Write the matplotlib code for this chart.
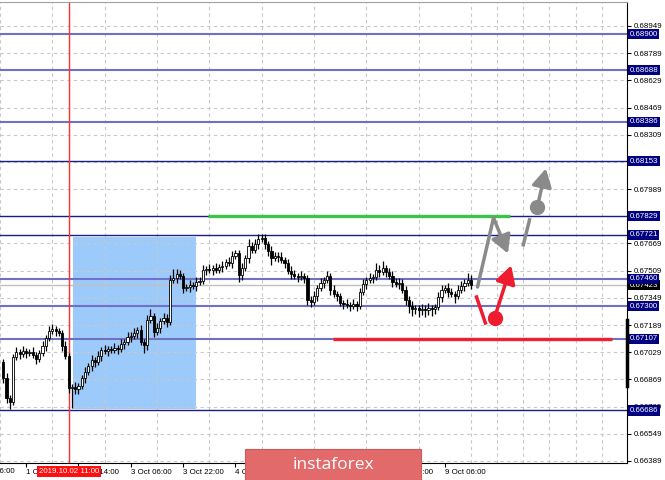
import matplotlib.pyplot as plt
from matplotlib.patches import Rectangle

# H1 candles, 1 Oct 15:00 ... 9 Oct 15:00
first_open = 0.66971
closes = [
    0.66877, 0.66759, 0.66736, 0.67001, 0.67030, 0.67019, 0.67036, 0.67024, 0.67030, 0.67013,
    0.66989, 0.67024, 0.67066, 0.67113, 0.67154, 0.67166, 0.67154, 0.67142, 0.67066, 0.67007,
    0.66818, 0.66824, 0.66812, 0.66830, 0.66877, 0.66913, 0.66948, 0.66983, 0.66971, 0.67007,
    0.67042, 0.67036, 0.67048, 0.67042, 0.67054, 0.67048, 0.67077, 0.67089, 0.67119, 0.67125,
    0.67142, 0.67160, 0.67089, 0.67072, 0.67219, 0.67242, 0.67148, 0.67172, 0.67213, 0.67231,
    0.67207, 0.67454, 0.67466, 0.67490, 0.67478, 0.67407, 0.67413, 0.67425, 0.67419, 0.67443,
    0.67449, 0.67513, 0.67519, 0.67513, 0.67525, 0.67513, 0.67531, 0.67537, 0.67560, 0.67555,
    0.67596, 0.67613, 0.67484, 0.67525, 0.67584, 0.67655, 0.67631, 0.67666, 0.67696, 0.67702,
    0.67666, 0.67625, 0.67584, 0.67596, 0.67590, 0.67572, 0.67555, 0.67507, 0.67490, 0.67478,
    0.67472, 0.67478, 0.67466, 0.67337, 0.67325, 0.67360, 0.67407, 0.67437, 0.67454, 0.67478,
    0.67396, 0.67372, 0.67360, 0.67319, 0.67313, 0.67307, 0.67301, 0.67313, 0.67301, 0.67384,
    0.67431, 0.67454, 0.67466, 0.67472, 0.67513, 0.67502, 0.67525, 0.67502, 0.67478, 0.67443,
    0.67431, 0.67437, 0.67396, 0.67337, 0.67301, 0.67284, 0.67289, 0.67278, 0.67284, 0.67278,
    0.67289, 0.67284, 0.67295, 0.67354, 0.67396, 0.67407, 0.67384, 0.67372, 0.67360, 0.67396,
    0.67419, 0.67437, 0.67454, 0.67423,
]
# wicks in pips (0.0001)
wick_up = [
    2, 3, 2, 2, 3, 2, 3, 2, 2, 3, 2, 2, 3, 2, 3, 3, 2, 2, 2, 3,
    2, 2, 3, 2, 2, 3, 2, 3, 2, 3, 2, 3, 2, 2, 3, 2, 3, 2, 3, 2,
    3, 2, 3, 2, 3, 4, 2, 3, 2, 3, 2, 3, 5, 3, 2, 2, 2, 3, 2, 3,
    2, 3, 2, 3, 2, 3, 2, 3, 2, 3, 3, 2, 2, 3, 2, 4, 2, 3, 3, 2,
    2, 2, 3, 2, 2, 3, 2, 2, 3, 2, 2, 3, 2, 2, 2, 3, 2, 3, 2, 3,
    2, 3, 2, 2, 2, 3, 2, 3, 2, 2, 3, 2, 3, 2, 4, 3, 4, 2, 2, 3,
    2, 3, 2, 2, 2, 3, 2, 2, 3, 2, 3, 2, 2, 3, 3, 2, 3, 2, 2, 3,
    3, 2, 4, 3,
]
wick_dn = [
    3, 3, 4, 2, 2, 3, 2, 3, 2, 2, 3, 2, 2, 3, 2, 2, 3, 2, 3, 2,
    3, 12, 3, 3, 2, 3, 2, 3, 3, 2, 3, 2, 3, 2, 2, 3, 2, 3, 2, 3,
    2, 3, 2, 5, 3, 2, 3, 2, 3, 2, 3, 2, 2, 3, 2, 3, 2, 3, 2, 3,
    2, 2, 3, 2, 3, 2, 2, 3, 2, 2, 3, 2, 4, 3, 2, 3, 2, 2, 3, 2,
    3, 3, 4, 2, 3, 2, 3, 2, 3, 2, 3, 2, 3, 3, 3, 2, 3, 2, 3, 2,
    3, 2, 3, 2, 3, 2, 3, 2, 3, 2, 2, 3, 2, 3, 2, 3, 2, 3, 2, 3,
    2, 3, 2, 3, 4, 4, 3, 4, 3, 4, 3, 4, 3, 2, 3, 2, 3, 2, 4, 2,
    2, 3, 2, 2,
]

levels_light = [0.68900, 0.68688, 0.68386, 0.67460, 0.67300, 0.67107]
levels_dark = [0.68153, 0.67829, 0.67721, 0.66686]
bid = 0.67423

price_ticks = [0.66389, 0.66549, 0.66709, 0.66869, 0.67029, 0.67189, 0.67349, 0.67509, 0.67669,
               0.67829, 0.67989, 0.68149, 0.68309, 0.68469, 0.68629, 0.68789, 0.68949]
hidden_ticks = [0.67829, 0.68149]   # covered by level boxes
date_ticks = [7, 23, 39, 55, 71, 87, 103, 119, 135]
date_labels = ['1 Oct 22:00', '2 Oct 14:00', '3 Oct 06:00', '3 Oct 22:00', '4 Oct 14:00',
               '7 Oct 06:00', '7 Oct 22:00', '8 Oct 14:00', '9 Oct 06:00']

# marked objects
event_x = 20
event_label = '2019.10.02 11:00'
zone_x = (21.2, 59.0)
zone_price = (0.66695, 0.67707)
green_x = (62.7, 155.0)
green_price = 0.67829
red_x = (100.8, 186.2)
red_price = 0.67107
gray_path = [(145.0, 0.67413), (149.9, 0.67820), (154.3, 0.67610)]
gray_seg = [(159.0, 0.67661), (160.9, 0.67808)]
gray_dot = (163.3, 0.67884)
gray_tip = (165.9, 0.68110)
red_seg = [(144.7, 0.67354), (147.4, 0.67201)]
red_dot = (150.2, 0.67231)
red_tip = (155.3, 0.67540)
bar_range = (0.66830, 0.67219)

plt.rcParams['font.family'] = ['Liberation Sans', 'DejaVu Sans']

fig = plt.figure(figsize=(6.65, 4.8), dpi=100)
ax = fig.add_axes([0, 17 / 480, 627 / 665, 461 / 480])
ax.set_xlim(-0.43, 190.7)
ax.set_ylim(0.66377, 0.69090)

# grid
ax.set_yticks(price_ticks)
ax.set_yticklabels(['' if p in hidden_ticks else f'{p:.5f}' for p in price_ticks])
ax.set_xticks(date_ticks)
ax.set_xticklabels(date_labels, ha='left')
ax.set_xticks(list(range(-1, 191, 8)), minor=True)
ax.grid(True, which='minor', axis='x', color='#c8c8c8', linestyle=(0, (3, 3)), lw=0.8)
ax.grid(True, which='major', axis='y', color='#c8c8c8', linestyle=(0, (3, 3)), lw=0.8)
ax.set_axisbelow(True)

ax.yaxis.tick_right()
ax.tick_params(axis='y', length=3, width=0.8, labelsize=5.7, pad=1.5)
ax.tick_params(axis='x', which='major', length=3, width=0.8, labelsize=5.7, pad=1.5)
ax.tick_params(axis='x', which='minor', length=0)
ax.spines['left'].set_visible(False)
ax.spines['top'].set_color('#a0a0a0')

# zone
ax.add_patch(Rectangle((zone_x[0], zone_price[0]), zone_x[1] - zone_x[0],
                       zone_price[1] - zone_price[0], fc='#9ccbfb', ec='none', zorder=0.5))

# levels
for p in levels_light:
    ax.axhline(p, color='#7070c4', lw=1.5, zorder=2)
for p in levels_dark:
    ax.axhline(p, color='#1c1c84', lw=1.0, zorder=2)
ax.axhline(bid, color='#c0c0c0', lw=1.0, zorder=1.8)
ax.axvline(event_x, color='#ff3030', lw=1.0, zorder=2)

ax.plot(green_x, [green_price] * 2, color='#3cc44a', lw=2.4, zorder=2.5, solid_capstyle='butt')
ax.plot(red_x, [red_price] * 2, color='#f02030', lw=2.4, zorder=2.5, solid_capstyle='butt')

# candles
opens = [first_open] + closes[:-1]
xs = list(range(len(closes)))
highs = [max(o, c) + u * 0.0001 for o, c, u in zip(opens, closes, wick_up)]
lows = [min(o, c) - d * 0.0001 for o, c, d in zip(opens, closes, wick_dn)]
ax.vlines(xs, lows, highs, color='black', lw=0.9, zorder=3)
bottoms = [min(o, c) for o, c in zip(opens, closes)]
heights = [max(abs(c - o), 0.00002) for o, c in zip(opens, closes)]
faces = ['white' if c >= o else 'black' for o, c in zip(opens, closes)]
ax.bar(xs, heights, bottom=bottoms, width=0.66, color=faces, edgecolor='black',
       lw=0.6, zorder=4)

# scenario arrows
gray = '#8a8a8a'
red = '#ee1c2e'
ax.plot([gray_path[0][0], gray_path[1][0]], [gray_path[0][1], gray_path[1][1]],
        color=gray, lw=2.5, zorder=5, solid_capstyle='round')
arrow_kw = dict(arrowstyle='-|>,head_length=0.9,head_width=0.5', lw=2.5,
                mutation_scale=12, shrinkA=0, shrinkB=0)
ax.annotate('', xy=gray_path[2], xytext=gray_path[1],
            arrowprops=dict(color=gray, **arrow_kw), zorder=5)
ax.plot([p[0] for p in gray_seg], [p[1] for p in gray_seg], color=gray, lw=2.5, zorder=5)
ax.plot(*gray_dot, 'o', color=gray, ms=10, zorder=5)
ax.annotate('', xy=gray_tip, xytext=gray_dot,
            arrowprops=dict(color=gray, **arrow_kw), zorder=5)
ax.plot([p[0] for p in red_seg], [p[1] for p in red_seg], color=red, lw=2.5, zorder=5)
ax.plot(*red_dot, 'o', color=red, ms=10, zorder=5)
ax.annotate('', xy=red_tip, xytext=red_dot,
            arrowprops=dict(color=red, **arrow_kw), zorder=5)

# right-side labels for levels
ytr = ax.get_yaxis_transform()
ax.text(1.004, bid, f'{bid:.5f}', transform=ytr, ha='left', va='center', fontsize=5.7,
        color='white', zorder=10, clip_on=False,
        bbox=dict(boxstyle='square,pad=0.2', fc='black', ec='none'))
for p in levels_dark + levels_light:
    ax.text(1.004, p, f'{p:.5f}', transform=ytr, ha='left', va='center', fontsize=5.7,
            color='white', zorder=11, clip_on=False,
            bbox=dict(boxstyle='square,pad=0.2', fc='#000080', ec='none'))
ax.plot([1.0, 1.0], bar_range, transform=ytr, color='black', lw=2.5, clip_on=False, zorder=12)

# bottom: date label of the red line, and the half-visible first label
xtr = ax.get_xaxis_transform()
ax.text(-9, -0.0115, '1 Oct 06:00', transform=xtr, ha='left', va='top', fontsize=5.7,
        clip_on=False)
ax.text(event_x, -0.0115, event_label, transform=xtr, ha='center', va='top', fontsize=5.7,
        color='white', zorder=10, clip_on=False,
        bbox=dict(boxstyle='square,pad=0.25', fc='#ff1010', ec='none'))

# watermark
fig.patches.append(Rectangle((245 / 665, 0), 176 / 665, 31 / 480, transform=fig.transFigure,
                             fc='#e26a6a', ec='#d05a5a', lw=0.8, zorder=20))
fig.text(333 / 665, 15 / 480, 'instaforex', ha='center', va='center', fontsize=12.5,
         color='white', family='Open Sans', zorder=21)

fig.savefig('out.png', dpi=100)
